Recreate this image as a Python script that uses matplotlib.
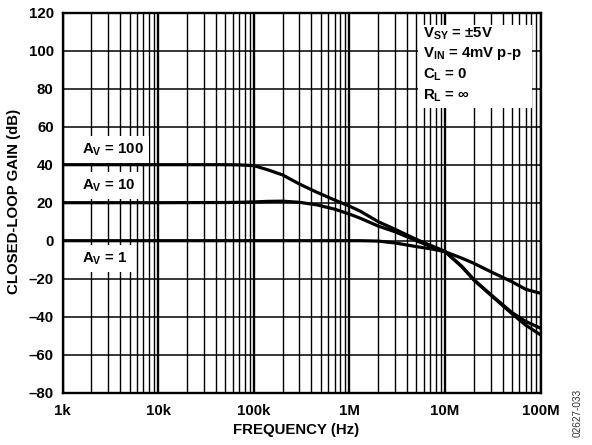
import matplotlib
matplotlib.use("Agg")
import matplotlib.pyplot as plt
from matplotlib.patches import Rectangle
from matplotlib.ticker import FixedLocator, NullFormatter

plt.rcParams['font.family'] = ['Liberation Sans', 'DejaVu Sans']
plt.rcParams['font.weight'] = 'bold'
plt.rcParams['mathtext.fontset'] = 'custom'
plt.rcParams['mathtext.rm'] = 'Liberation Sans:bold'
plt.rcParams['mathtext.bf'] = 'Liberation Sans:bold'
plt.rcParams['mathtext.it'] = 'Liberation Sans:bold'

# ---- data ----
freq_hz = [1e3, 1e4, 5e4, 7e4, 1e5, 1.4e5, 2e5, 3e5, 4.5e5, 7e5, 1e6, 1.3e6,
           2e6, 3e6, 5e6, 7.5e6, 1e7, 1.5e7, 2e7, 3e7, 5e7, 7e7, 1e8]
gain_av100 = [40, 40, 40, 39.9, 39.5, 37.3, 34.6, 29.8, 25.6, 21.4, 18.2, 15.5,
              10.0, 6.0, 0.7, -3.0, -5.6, -13.8, -20.7, -28.6, -38.4, -44.5, -49.6]
gain_av10 = [20, 20, 20.1, 20.2, 20.4, 20.7, 20.8, 20.2, 18.9, 16.6, 14.0, 11.8,
             7.7, 4.7, 0.0, -3.5, -5.8, -13.5, -20.5, -28.3, -37.8, -42.5, -46.1]
gain_av1 = [0, 0, 0, 0, 0, 0, 0, 0, 0, 0, 0, 0,
            -0.2, -1.2, -3.1, -4.5, -5.8, -9.2, -11.9, -16.3, -21.6, -25.6, -27.7]

x_ticks = [1e3, 1e4, 1e5, 1e6, 1e7, 1e8]
x_tick_labels = ['1k', '10k', '100k', '1M', '10M', '100M']
y_ticks = [-80, -60, -40, -20, 0, 20, 40, 60, 80, 100, 120]
y_tick_labels = ['\u201380', '\u201360', '\u201340', '\u201320', '0', '20', '40', '60', '80', '100', '120']

curve_labels = [r'$\mathrm{A_V}$ = 100', r'$\mathrm{A_V}$ = 10', r'$\mathrm{A_V}$ = 1']
curve_label_y = [46.0, 27.0, -11.6]
cond_lines = [r'$\mathrm{V_{SY}}$ = ±5V', r'$\mathrm{V_{IN}}$ = 4mV p-p',
              r'$\mathrm{C_L}$ = 0', r'$\mathrm{R_L}$ = ∞']

FS = 10.8

fig = plt.figure(figsize=(5.92, 4.45), dpi=100)
ax = fig.add_axes([0.1059, 0.1175, 0.9133 - 0.1059, 0.9715 - 0.1175])

for g in (gain_av100, gain_av10, gain_av1):
    ax.plot(freq_hz, g, color='black', lw=2.3, zorder=6, solid_capstyle='butt')

ax.set_xscale('log')
ax.set_xlim(1e3, 1e8)
ax.set_ylim(-80, 120)

ax.xaxis.set_major_locator(FixedLocator(x_ticks))
ax.set_xticklabels(x_tick_labels)
minor = [m * d for d in [1e3, 1e4, 1e5, 1e6, 1e7] for m in range(2, 10)]
ax.xaxis.set_minor_locator(FixedLocator(minor))
ax.xaxis.set_minor_formatter(NullFormatter())
ax.set_yticks(y_ticks)
ax.set_yticklabels(y_tick_labels)

ax.grid(True, which='major', axis='x', color='black', lw=1.7)
ax.grid(True, which='minor', axis='x', color='black', lw=1.0)
ax.grid(True, which='major', axis='y', color='black', lw=1.1)

ax.tick_params(axis='both', which='both', length=0, labelsize=FS)
ax.tick_params(axis='x', pad=8.0)
ax.tick_params(axis='y', pad=6.5)
for lab in ax.get_xticklabels() + ax.get_yticklabels():
    lab.set_fontweight('bold')
for s in ax.spines.values():
    s.set_linewidth(1.7)
    s.set_zorder(7)

# curve labels with white boxes
for txt, yv in zip(curve_labels, curve_label_y):
    ax.text(0.0404, yv, txt, transform=ax.get_yaxis_transform(), fontsize=FS,
            fontweight='bold', va='baseline', ha='left', zorder=5,
            bbox=dict(boxstyle='square,pad=0.35', fc='white', ec='none'))

# condition box
ax.add_patch(Rectangle((0.743, 0.749), 0.239, 0.2186, transform=ax.transAxes,
                       fc='white', ec='none', zorder=2.5))
for txt, yy in zip(cond_lines, [0.9353, 0.8842, 0.8274, 0.7721]):
    ax.text(0.754, yy, txt, transform=ax.transAxes, fontsize=FS,
            fontweight='bold', va='baseline', ha='left', zorder=5)

fig.text(296.5 / 592, 1 - 430 / 445, 'FREQUENCY (Hz)', ha='center', va='center',
         fontsize=FS, fontweight='bold')
fig.text(14 / 592, 1 - 201.5 / 445, 'CLOSED-LOOP GAIN (dB)', ha='center', va='center',
         rotation=90, fontsize=FS, fontweight='bold')
fig.text(578 / 592, 1 - 413 / 445, '02627-033', ha='center', va='center',
         rotation=90, fontsize=7.2, fontweight='normal', color='#333333')

fig.savefig('out.png', dpi=100)
